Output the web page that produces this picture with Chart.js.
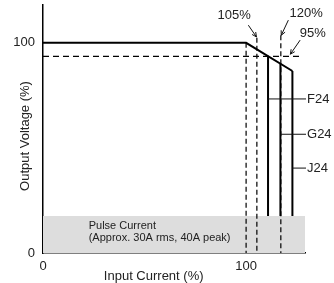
<!DOCTYPE html>
<html>
<head>
<meta charset="utf-8">
<script src="https://cdn.jsdelivr.net/npm/chart.js@4.4.0/dist/chart.umd.min.js"></script>
<style>
  html, body { margin: 0; padding: 0; background: #fff; }
</style>
</head>
<body>
<canvas id="droop" width="334" height="283"></canvas>
<script>
// output curve (input current %, output voltage %)
const curveX = [0, 100, 122.8];
const curveY = [100, 100, 86.6];

// model current limits
const models = ['F24', 'G24', 'J24'];
const modelX = [110.8, 116.9, 122.8];
const modelTop = [93.6, 90.1, 86.6];
const modelTagY = [73.3, 56.5, 40.4];

// rated current markers (dashed)
const ratedX = [100, 105.3, 117.1];
const ratedTop = [100, 102.4, 103.6];

const holdLevel = 93.6;   // 95% output line
const holdEnd = 126.6;
const pulseLevel = 17.6;  // pulse current band
const pulseEnd = 129.5;

const xTicks = [0, 100];
const yTicks = [0, 100];

const FONT = '"Liberation Sans", Arial, sans-serif';
const INK = '#222';

function seg(x1, y1, x2, y2) {
    return [{ x: x1, y: y1 }, { x: x2, y: y2 }];
}

const datasets = [];

datasets.push({
    data: curveX.map((v, i) => ({ x: v, y: curveY[i] })),
    borderColor: '#000',
    borderWidth: 2
});

models.forEach((m, i) => {
    datasets.push({
        data: seg(modelX[i], modelTop[i], modelX[i], pulseLevel),
        borderColor: '#000',
        borderWidth: 2
    });
});

datasets.push({
    data: seg(0, holdLevel, holdEnd, holdLevel),
    borderColor: '#000',
    borderWidth: 1.2,
    borderDash: [6, 4]
});

ratedX.forEach((v, i) => {
    datasets.push({
        data: seg(v, ratedTop[i], v, 0),
        borderColor: '#000',
        borderWidth: 1.2,
        borderDash: [5, 3]
    });
});

// grey band, drawn first
datasets.push({
    data: seg(0, pulseLevel, pulseEnd, pulseLevel),
    borderWidth: 0,
    borderColor: 'rgba(0,0,0,0)',
    backgroundColor: '#dddddd',
    fill: 'origin',
    order: 10
});

function arrow(ctx, x1, y1, x2, y2) {
    const a = Math.atan2(y2 - y1, x2 - x1);
    const h = 5;
    ctx.beginPath();
    ctx.moveTo(x1, y1);
    ctx.lineTo(x2, y2);
    ctx.moveTo(x2 - h * Math.cos(a - 0.45), y2 - h * Math.sin(a - 0.45));
    ctx.lineTo(x2, y2);
    ctx.lineTo(x2 - h * Math.cos(a + 0.45), y2 - h * Math.sin(a + 0.45));
    ctx.stroke();
}

// labels, leaders and arrows
const notes = {
    id: 'notes',
    afterDatasetsDraw(chart) {
        const { ctx, chartArea, scales: { x, y } } = chart;
        const px = v => x.getPixelForValue(v);
        const py = v => y.getPixelForValue(v);
        ctx.save();
        ctx.strokeStyle = '#111';
        ctx.lineWidth = 1;
        ctx.fillStyle = INK;
        ctx.textBaseline = 'middle';
        ctx.font = '13px ' + FONT;

        models.forEach((m, i) => {
            ctx.beginPath();
            ctx.moveTo(px(modelX[i]), py(modelTagY[i]));
            ctx.lineTo(px(pulseEnd), py(modelTagY[i]));
            ctx.stroke();
            ctx.textAlign = 'left';
            ctx.fillText(m, px(pulseEnd) + 1, py(modelTagY[i]));
        });

        ctx.textAlign = 'center';
        ctx.fillText('105%', px(94.1), py(113.2));
        arrow(ctx, px(101.1), py(108.4), px(105.1), py(102.8));
        ctx.fillText('120%', px(129.6), py(113.9));
        arrow(ctx, px(120.8), py(110.8), px(117.3), py(103.6));
        ctx.fillText('95%', px(132.8), py(104.6));
        arrow(ctx, px(126.6), py(101.3), px(121.8), py(94.6));

        ctx.textAlign = 'left';
        ctx.font = '11px ' + FONT;
        ctx.fillText('Pulse Current', px(22.5), py(12.8));
        ctx.fillText('(Approx. 30A rms, 40A peak)', px(22.5), py(7.1));

        // axis titles
        ctx.font = '13px ' + FONT;
        ctx.textAlign = 'center';
        ctx.fillText('Input Current (%)', px(54.5), chartArea.bottom + 23);
        ctx.translate(chartArea.left - 18, (chartArea.top + chartArea.bottom) / 2 + 7);
        ctx.rotate(-Math.PI / 2);
        ctx.fillText('Output Voltage (%)', 0, 0);
        ctx.restore();
    }
};

new Chart(document.getElementById('droop').getContext('2d'), {
    type: 'scatter',
    data: { datasets: datasets },
    options: {
        responsive: false,
        animation: false,
        showLine: true,
        elements: { point: { radius: 0 }, line: { tension: 0 } },
        layout: { padding: { top: 5, right: 29, left: 0, bottom: 0 } },
        plugins: { legend: { display: false }, tooltip: { enabled: false } },
        scales: {
            x: {
                type: 'linear',
                min: 0,
                max: 129,
                grid: { display: false, drawTicks: false },
                border: { display: true, color: '#000', width: 1.5 },
                afterBuildTicks: s => { s.ticks = xTicks.map(v => ({ value: v })); },
                afterFit: s => { s.height = 30; },
                ticks: { padding: 6, color: INK, font: { family: FONT, size: 13 } }
            },
            y: {
                type: 'linear',
                min: 0,
                max: 118,
                grid: { display: false, drawTicks: false },
                border: { display: true, color: '#000', width: 1.5 },
                afterBuildTicks: s => { s.ticks = yTicks.map(v => ({ value: v })); },
                afterFit: s => { s.width = 43; s.paddingTop = 0; s.paddingBottom = 0; },
                ticks: { padding: 8, color: INK, font: { family: FONT, size: 13 } }
            }
        }
    },
    plugins: [notes]
});
</script>
</body>
</html>
